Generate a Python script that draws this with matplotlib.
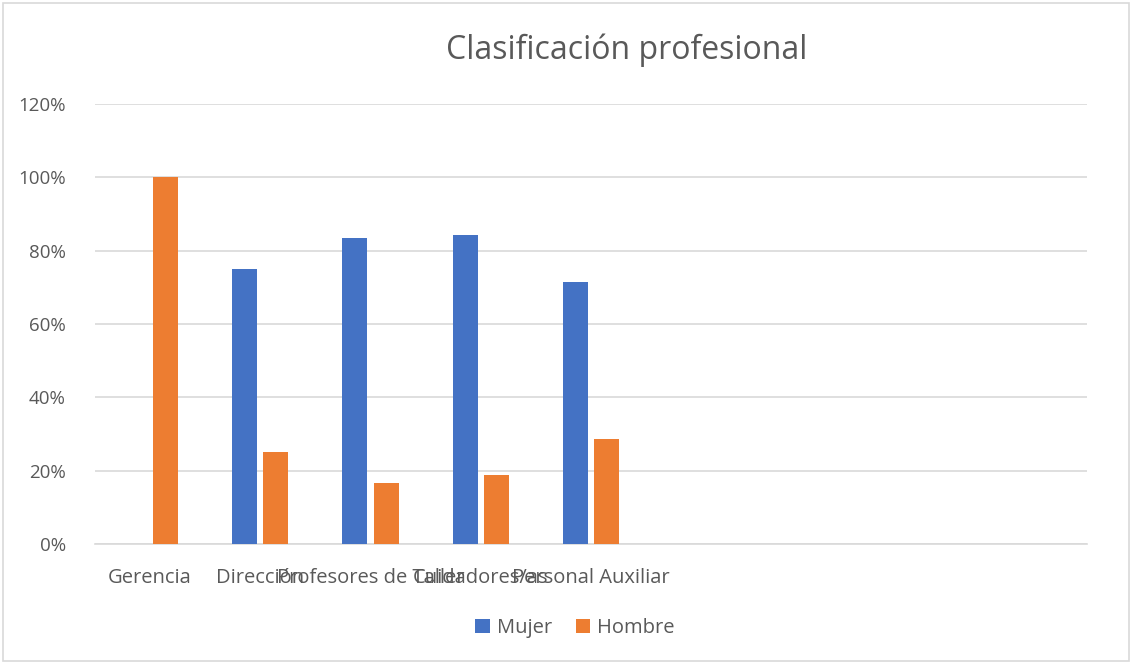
import matplotlib
matplotlib.use("Agg")
import matplotlib.pyplot as plt
import numpy as np
from matplotlib.patches import Rectangle

categories = ["Gerencia", "Dirección", "Profesores de Taller", "Cuidadores/as", "Personal Auxiliar", "", "", "", ""]
mujer = [0, 75.0, 83.33, 84.2, 71.43, np.nan, np.nan, np.nan, np.nan]
hombre = [100.0, 25.0, 16.67, 18.8, 28.57, np.nan, np.nan, np.nan, np.nan]
yticks = [0, 20, 40, 60, 80, 100, 120]

plt.rcParams['font.family'] = ['Open Sans', 'DejaVu Sans']
txt = '#595959'

fig = plt.figure(figsize=(11.32, 6.64), dpi=100)
W, H = 1132, 664
ax = fig.add_axes([95 / W, 1 - 544 / H, (1087 - 95) / W, (544 - 104) / H])

x = np.arange(len(categories))
bw = 0.227
off = 0.142
ax.bar(x - off, mujer, bw, color='#4472C4', label='Mujer', zorder=3)
ax.bar(x + off, hombre, bw, color='#ED7D31', label='Hombre', zorder=3)

ax.set_xlim(-0.5, len(categories) - 0.5)
ax.set_ylim(0, 120)
ax.set_yticks(yticks)
ax.set_yticklabels([f"{v}%" for v in yticks], color=txt, fontsize=13.5)
ax.set_xticks(x)
ax.set_xticklabels(categories, color=txt, fontsize=14.5)
ax.tick_params(axis='both', length=0)
ax.tick_params(axis='y', pad=21)
ax.tick_params(axis='x', pad=17)
ax.grid(axis='y', color='#d9d9d9', linewidth=1.2, zorder=0)
for s in ['top', 'right', 'left']:
    ax.spines[s].set_visible(False)
ax.spines['bottom'].set_color('#d9d9d9')
ax.spines['bottom'].set_linewidth(1.2)

fig.text(627 / W, 1 - 50 / H, "Clasificación profesional", ha='center', va='center',
         fontsize=23, color=txt)

leg = fig.legend(loc='center', bbox_to_anchor=(575 / W, 1 - 628 / H), ncol=2, frameon=False,
                 fontsize=14.5, labelcolor=txt, handlelength=0.7, handleheight=0.7,
                 columnspacing=1.2, handletextpad=0.35)

fig.patches.append(Rectangle((3 / W, 3 / H), (W - 6) / W, (H - 6) / H, transform=fig.transFigure,
                             fill=False, edgecolor='#d9d9d9', linewidth=1.2))

fig.savefig("out.png", dpi=100)
